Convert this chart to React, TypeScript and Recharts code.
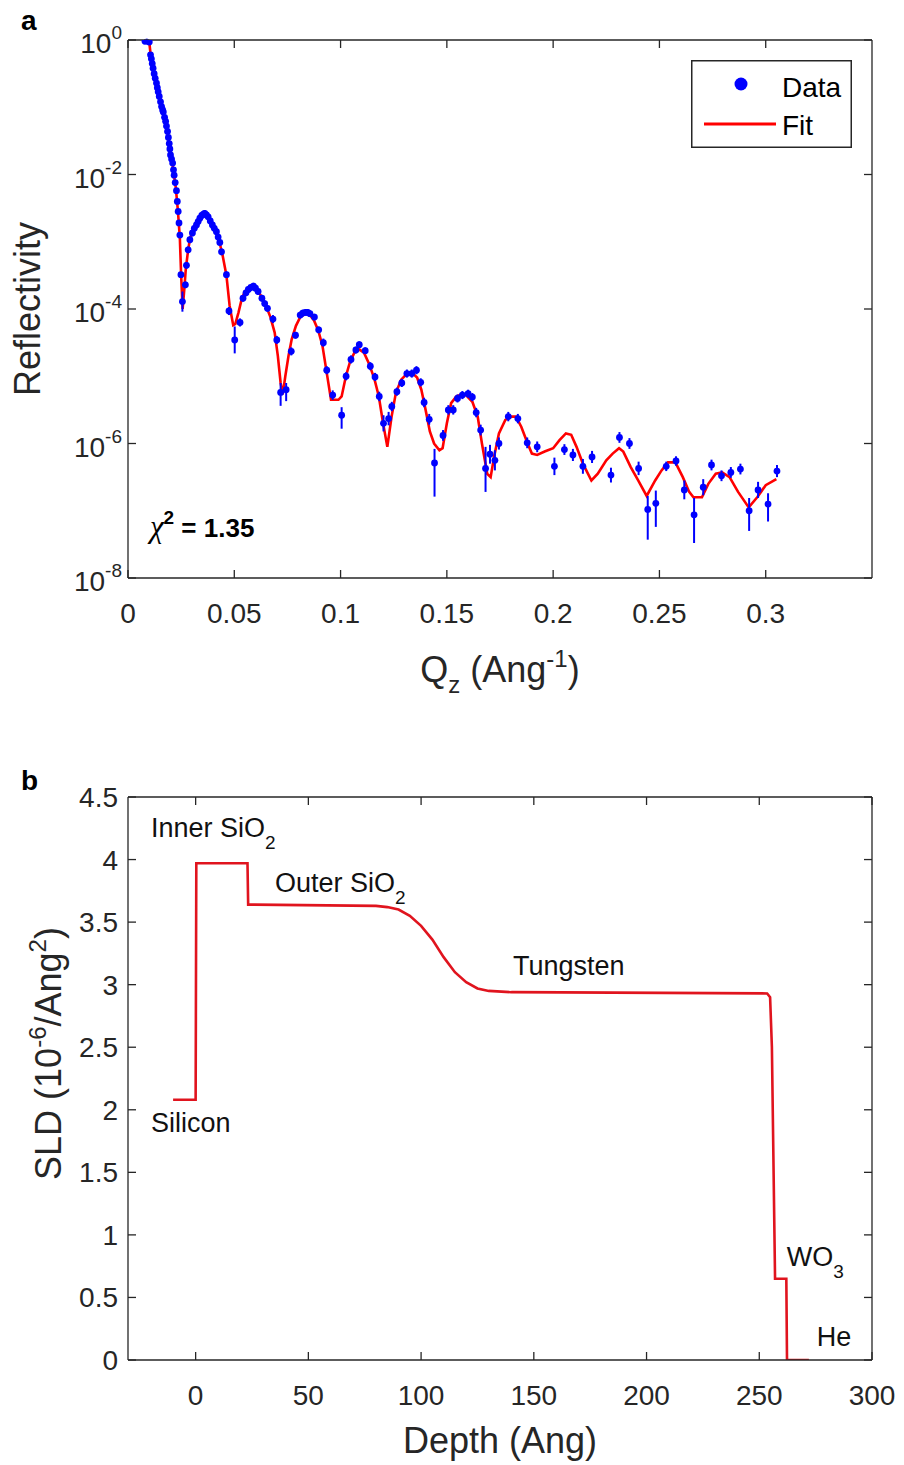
import React from 'react';
import { ComposedChart, Line, Scatter, XAxis, YAxis, ErrorBar, Legend, ReferenceDot } from 'recharts';

// ---------- Panel a: reflectivity ----------
const qTicks = [0, 0.05, 0.1, 0.15, 0.2, 0.25, 0.3];
const rTicks = [1e-8, 1e-6, 1e-4, 1e-2, 1];

const dataQ = [
  0.0080, 0.0088, 0.0095, 0.0100, 0.0106, 0.0110, 0.0114, 0.0118, 0.0123, 0.0128,
  0.0134, 0.0138, 0.0142, 0.0147, 0.0153, 0.0158, 0.0163, 0.0166, 0.0172, 0.0177,
  0.0181, 0.0186, 0.0190, 0.0194, 0.0197, 0.0200, 0.0205, 0.0210, 0.0214, 0.0217,
  0.0222, 0.0228, 0.0232, 0.0236, 0.0240, 0.0244, 0.0249, 0.0256, 0.0270, 0.0275,
  0.0283, 0.0291, 0.0303, 0.0312, 0.0322, 0.0330, 0.0338, 0.0347, 0.0355, 0.0361,
  0.0369, 0.0377, 0.0387, 0.0397, 0.0406, 0.0416, 0.0424, 0.0432, 0.0440, 0.0463,
  0.0475, 0.0502, 0.0527, 0.0541, 0.0555, 0.0566, 0.0578, 0.0590, 0.0600, 0.0612,
  0.0630, 0.0643, 0.0656, 0.0682, 0.0700, 0.0718, 0.0744, 0.0768, 0.0788, 0.0810,
  0.0822, 0.0835, 0.0845, 0.0856, 0.0877, 0.0897, 0.0919, 0.0935, 0.0963, 0.1005,
  0.1026, 0.1049, 0.1072, 0.1088, 0.1116, 0.1140, 0.1162, 0.1182, 0.1202, 0.1226,
  0.1241, 0.1265, 0.1288, 0.1312, 0.1335, 0.1357, 0.1377, 0.1393, 0.1417, 0.1442,
  0.1482, 0.1507, 0.1530, 0.1550, 0.1573, 0.1600, 0.1620, 0.1638, 0.1659, 0.1682,
  0.1703, 0.1726, 0.1745, 0.1789, 0.1834, 0.1878, 0.1925, 0.2006, 0.2053, 0.2093,
  0.2140, 0.2183, 0.2272, 0.2312, 0.2359, 0.2402, 0.2445, 0.2483, 0.2532, 0.2578,
  0.2617, 0.2663, 0.2706, 0.2745, 0.2792, 0.2836, 0.2881, 0.2922, 0.2964, 0.3011,
  0.3053,
];
const dataLogR = [
  -0.02, -0.01, -0.02, -0.03, -0.22, -0.28, -0.35, -0.42, -0.50, -0.57,
  -0.64, -0.71, -0.77, -0.84, -0.92, -0.99, -1.04, -1.07, -1.15, -1.21,
  -1.28, -1.36, -1.45, -1.54, -1.62, -1.71, -1.77, -1.83, -1.93, -2.01,
  -2.12, -2.24, -2.40, -2.55, -2.72, -2.90, -3.49, -3.89, -3.64, -3.35,
  -3.12, -2.97, -2.87, -2.80, -2.75, -2.70, -2.65, -2.61, -2.59, -2.58,
  -2.60, -2.63, -2.69, -2.75, -2.80, -2.85, -2.93, -3.01, -3.15, -3.49,
  -4.03, -4.46, -4.20, -3.84, -3.76, -3.71, -3.68, -3.66, -3.69, -3.74,
  -3.84, -3.92, -3.99, -4.15, -4.46, -5.24, -5.20, -4.63, -4.39, -4.09,
  -4.06, -4.05, -4.05, -4.07, -4.12, -4.31, -4.50, -4.91, -5.28, -5.58,
  -5.00, -4.75, -4.61, -4.53, -4.62, -4.85, -5.01, -5.30, -5.70, -5.63,
  -5.45, -5.23, -5.10, -4.96, -4.96, -4.91, -5.09, -5.39, -5.64, -6.29,
  -5.88, -5.50, -5.50, -5.33, -5.28, -5.26, -5.31, -5.54, -5.80, -6.37,
  -6.16, -6.25, -6.00, -5.60, -5.63, -5.99, -6.05, -6.34, -6.09, -6.17,
  -6.34, -6.20, -6.47, -5.91, -6.00, -6.37, -6.98, -6.89, -6.34, -6.26,
  -6.69, -7.06, -6.65, -6.32, -6.48, -6.43, -6.38, -7.00, -6.69, -6.90,
  -6.41,
];
// error bar extents, in decades below / above each point
const dataErrDown = [
  0.03, 0.03, 0.03, 0.03, 0.03, 0.03, 0.03, 0.03, 0.03, 0.03,
  0.03, 0.03, 0.03, 0.03, 0.03, 0.03, 0.03, 0.03, 0.03, 0.03,
  0.03, 0.03, 0.03, 0.03, 0.03, 0.03, 0.03, 0.03, 0.03, 0.03,
  0.03, 0.03, 0.03, 0.03, 0.03, 0.03, 0.04, 0.15, 0.05, 0.05,
  0.05, 0.05, 0.05, 0.05, 0.05, 0.05, 0.05, 0.05, 0.05, 0.05,
  0.05, 0.05, 0.05, 0.05, 0.05, 0.05, 0.05, 0.05, 0.05, 0.05,
  0.06, 0.20, 0.06, 0.05, 0.05, 0.05, 0.05, 0.05, 0.05, 0.05,
  0.05, 0.05, 0.05, 0.06, 0.06, 0.20, 0.17, 0.06, 0.05, 0.05,
  0.05, 0.05, 0.05, 0.05, 0.05, 0.05, 0.06, 0.06, 0.07, 0.20,
  0.06, 0.06, 0.05, 0.05, 0.05, 0.06, 0.06, 0.07, 0.12, 0.10,
  0.07, 0.06, 0.06, 0.06, 0.06, 0.06, 0.06, 0.07, 0.08, 0.50,
  0.08, 0.07, 0.07, 0.06, 0.06, 0.06, 0.06, 0.07, 0.08, 0.35,
  0.14, 0.15, 0.09, 0.07, 0.07, 0.08, 0.08, 0.13, 0.08, 0.09,
  0.11, 0.09, 0.11, 0.08, 0.08, 0.10, 0.45, 0.35, 0.07, 0.07,
  0.14, 0.42, 0.12, 0.08, 0.08, 0.08, 0.08, 0.30, 0.12, 0.26,
  0.09,
];
const dataErrUp = [
  0.03, 0.03, 0.03, 0.03, 0.03, 0.03, 0.03, 0.03, 0.03, 0.03,
  0.03, 0.03, 0.03, 0.03, 0.03, 0.03, 0.03, 0.03, 0.03, 0.03,
  0.03, 0.03, 0.03, 0.03, 0.03, 0.03, 0.03, 0.03, 0.03, 0.03,
  0.03, 0.03, 0.03, 0.03, 0.03, 0.03, 0.04, 0.15, 0.05, 0.05,
  0.05, 0.05, 0.05, 0.05, 0.05, 0.05, 0.05, 0.05, 0.05, 0.05,
  0.05, 0.05, 0.05, 0.05, 0.05, 0.05, 0.05, 0.05, 0.05, 0.05,
  0.06, 0.20, 0.06, 0.05, 0.05, 0.05, 0.05, 0.05, 0.05, 0.05,
  0.05, 0.05, 0.05, 0.06, 0.06, 0.14, 0.10, 0.06, 0.05, 0.05,
  0.05, 0.05, 0.05, 0.05, 0.05, 0.05, 0.06, 0.06, 0.07, 0.12,
  0.06, 0.06, 0.05, 0.05, 0.05, 0.06, 0.06, 0.07, 0.12, 0.10,
  0.07, 0.06, 0.06, 0.06, 0.06, 0.06, 0.06, 0.07, 0.08, 0.21,
  0.08, 0.07, 0.07, 0.06, 0.06, 0.06, 0.06, 0.07, 0.08, 0.32,
  0.14, 0.15, 0.09, 0.07, 0.07, 0.08, 0.08, 0.13, 0.08, 0.09,
  0.11, 0.09, 0.11, 0.08, 0.08, 0.10, 0.20, 0.19, 0.07, 0.07,
  0.14, 0.25, 0.12, 0.08, 0.08, 0.08, 0.08, 0.19, 0.12, 0.16,
  0.09,
];

const fitQ = [
  0.0085, 0.0100, 0.0106, 0.0115, 0.0125, 0.0135, 0.0145, 0.0155, 0.0165, 0.0175,
  0.0185, 0.0195, 0.0205, 0.0215, 0.0225, 0.0235, 0.0244, 0.0250, 0.0257, 0.0265,
  0.0272, 0.0283, 0.0292, 0.0305, 0.0320, 0.0338, 0.0355, 0.0370, 0.0385, 0.0400,
  0.0415, 0.0430, 0.0445, 0.0463, 0.0478, 0.0495, 0.0505, 0.0520, 0.0535, 0.0550,
  0.0570, 0.0590, 0.0610, 0.0630, 0.0650, 0.0670, 0.0690, 0.0705, 0.0718, 0.0728,
  0.0740, 0.0755, 0.0770, 0.0790, 0.0810, 0.0835, 0.0855, 0.0875, 0.0895, 0.0915,
  0.0935, 0.0955, 0.0990, 0.1005, 0.1025, 0.1045, 0.1065, 0.1088, 0.1110, 0.1135,
  0.1160, 0.1180, 0.1200, 0.1220, 0.1240, 0.1260, 0.1285, 0.1310, 0.1340, 0.1360,
  0.1380, 0.1400, 0.1420, 0.1440, 0.1465, 0.1480, 0.1500, 0.1520, 0.1545, 0.1570,
  0.1590, 0.1620, 0.1645, 0.1665, 0.1690, 0.1706, 0.1722, 0.1745, 0.1775, 0.1805,
  0.1825, 0.1850, 0.1880, 0.1900, 0.1925, 0.1960, 0.2000, 0.2030, 0.2060, 0.2085,
  0.2110, 0.2140, 0.2180, 0.2210, 0.2250, 0.2280, 0.2310, 0.2330, 0.2365, 0.2400,
  0.2440, 0.2480, 0.2510, 0.2540, 0.2575, 0.2610, 0.2640, 0.2660, 0.2700, 0.2730,
  0.2765, 0.2795, 0.2830, 0.2870, 0.2920, 0.2960, 0.3000, 0.3050,
];
const fitLogR = [
  -0.02, -0.03, -0.20, -0.36, -0.51, -0.66, -0.81, -0.95, -1.08, -1.22,
  -1.36, -1.55, -1.75, -1.98, -2.20, -2.55, -2.95, -3.50, -4.00, -3.70,
  -3.40, -3.12, -2.95, -2.83, -2.72, -2.63, -2.58, -2.60, -2.66, -2.76,
  -2.86, -3.00, -3.20, -3.50, -3.95, -4.24, -4.22, -4.05, -3.85, -3.74,
  -3.68, -3.66, -3.72, -3.83, -3.96, -4.12, -4.35, -4.70, -5.10, -5.27,
  -5.00, -4.70, -4.45, -4.25, -4.12, -4.07, -4.09, -4.17, -4.32, -4.55,
  -4.95, -5.35, -5.35, -5.30, -5.00, -4.78, -4.65, -4.60, -4.65, -4.82,
  -5.05, -5.30, -5.70, -6.05, -5.60, -5.25, -5.05, -4.97, -4.96, -5.02,
  -5.20, -5.50, -5.82, -6.00, -6.10, -6.07, -5.70, -5.40, -5.30, -5.27,
  -5.28, -5.38, -5.60, -6.00, -6.45, -6.50, -6.20, -5.85, -5.65, -5.60,
  -5.60, -5.75, -6.00, -6.15, -6.17, -6.12, -6.07, -5.95, -5.85, -5.87,
  -6.05, -6.30, -6.55, -6.45, -6.25, -6.15, -6.07, -6.12, -6.35, -6.55,
  -6.78, -6.55, -6.40, -6.28, -6.28, -6.50, -6.72, -6.80, -6.80, -6.60,
  -6.45, -6.43, -6.50, -6.72, -6.95, -6.80, -6.62, -6.53,
];

const chiSquared = '1.35';
const chiPos = { q: 0.0103, logR: -7.39 };

// ---------- Panel b: SLD profile ----------
const depthTicks = [0, 50, 100, 150, 200, 250, 300];
const sldTicks = [0, 0.5, 1, 1.5, 2, 2.5, 3, 3.5, 4, 4.5];
const depth = [-10, 0, 0.3, 23, 23.3, 80, 85, 90, 95, 100, 105, 110, 115, 120, 125, 130, 140, 253.5, 254.8, 255.6, 257, 262, 262.3, 272];
const sld = [2.08, 2.08, 3.97, 3.97, 3.64, 3.63, 3.62, 3.60, 3.55, 3.47, 3.36, 3.22, 3.10, 3.02, 2.97, 2.95, 2.94, 2.93, 2.90, 2.50, 0.65, 0.65, 0.0, 0.0];
const layerNames = ['Inner SiO', 'Outer SiO', 'Tungsten', 'Silicon', 'WO', 'He'];
const layerSubs = ['2', '2', '', '', '3', ''];
const layerDepth = [-19.8, 35.2, 140.8, -19.8, 262.2, 275.5];
const layerSld = [4.18, 3.74, 3.08, 1.82, 0.75, 0.11];

// ---------- tables ----------
const dataRows = dataQ.map((q, i) => {
  const r = Math.pow(10, dataLogR[i]);
  return {
    q,
    r,
    err: [r - Math.pow(10, dataLogR[i] - dataErrDown[i]), Math.pow(10, dataLogR[i] + dataErrUp[i]) - r],
  };
});
const fitRows = fitQ.map((q, i) => ({ q, r: Math.pow(10, fitLogR[i]) }));
const sldRows = depth.map((d, i) => ({ d, s: sld[i] }));

// ---------- styling ----------
const FONT = '"Liberation Sans", Arial, Helvetica, sans-serif';
const INK = '#262626';
const TICK = 8;
const BLUE = '#0000ff';
const RED = '#ff0000';
const SLD_RED = '#e0141e';
const axisLine = { stroke: INK, strokeWidth: 1.3 };

const LogLeftTick = (props: any) => {
  const { x, y, payload } = props;
  const exp = Math.round(Math.log10(payload.value));
  return (
    <g>
      <line x1={x} y1={y} x2={x + TICK} y2={y} stroke={INK} strokeWidth={1.3} />
      <text x={x - 6} y={y + 13} textAnchor="end" fontFamily={FONT} fontSize={28} fill={INK}>
        10<tspan dy={-14} fontSize={19}>{String(exp)}</tspan>
      </text>
    </g>
  );
};

const LinLeftTick = (props: any) => {
  const { x, y, payload } = props;
  return (
    <g>
      <line x1={x} y1={y} x2={x + TICK} y2={y} stroke={INK} strokeWidth={1.3} />
      <text x={x - 10} y={y + 10} textAnchor="end" fontFamily={FONT} fontSize={28} fill={INK}>
        {String(payload.value)}
      </text>
    </g>
  );
};

const BottomTick = (props: any) => {
  const { x, y, payload } = props;
  return (
    <g>
      <line x1={x} y1={y} x2={x} y2={y - TICK} stroke={INK} strokeWidth={1.3} />
      <text x={x} y={y + 45} textAnchor="middle" fontFamily={FONT} fontSize={28} fill={INK}>
        {String(payload.value)}
      </text>
    </g>
  );
};

const TopTick = (props: any) => {
  const { x, y } = props;
  return <line x1={x} y1={y} x2={x} y2={y + TICK} stroke={INK} strokeWidth={1.3} />;
};

const RightTick = (props: any) => {
  const { x, y } = props;
  return <line x1={x} y1={y} x2={x - TICK} y2={y} stroke={INK} strokeWidth={1.3} />;
};

const QLabel = (props: any) => {
  const vb = props.viewBox;
  return (
    <text x={vb.x + vb.width / 2} y={vb.y + 104} textAnchor="middle" fontFamily={FONT} fontSize={36} fill={INK}>
      Q<tspan dy={11} fontSize={24}>z</tspan>
      <tspan dy={-11}>{'\u00a0(Ang'}</tspan>
      <tspan dy={-15} fontSize={24}>-1</tspan>
      <tspan dy={15}>)</tspan>
    </text>
  );
};

const ReflLabel = (props: any) => {
  const vb = props.viewBox;
  const cy = vb.y + vb.height / 2;
  return (
    <text transform={`translate(40, ${cy}) rotate(-90)`} textAnchor="middle" fontFamily={FONT} fontSize={36} fill={INK}>
      Reflectivity
    </text>
  );
};

const DepthLabel = (props: any) => {
  const vb = props.viewBox;
  return (
    <text x={vb.x + vb.width / 2} y={vb.y + 93} textAnchor="middle" fontFamily={FONT} fontSize={36} fill={INK}>
      Depth (Ang)
    </text>
  );
};

const SldLabel = (props: any) => {
  const vb = props.viewBox;
  const cy = vb.y + vb.height / 2 - 25;
  return (
    <text transform={`translate(61, ${cy}) rotate(-90)`} textAnchor="middle" fontFamily={FONT} fontSize={36} fill={INK}>
      {'SLD (10'}
      <tspan dy={-15} fontSize={24}>-6</tspan>
      <tspan dy={15}>/Ang</tspan>
      <tspan dy={-15} fontSize={24}>2</tspan>
      <tspan dy={15}>)</tspan>
    </text>
  );
};

const ChiLabel = (props: any) => {
  const vb = props.viewBox;
  return (
    <text x={vb.x} y={vb.y} fontFamily={FONT} fill="#000">
      <tspan fontFamily='"Liberation Serif", "Times New Roman", serif' fontStyle="italic" fontSize={31}>χ</tspan>
      <tspan dy={-13} fontSize={19} fontWeight="bold">2</tspan>
      <tspan dy={13} fontSize={26} fontWeight="bold">{'\u00a0= ' + chiSquared}</tspan>
    </text>
  );
};

const makeLayerLabel = (name: string, sub: string) => (props: any) => {
  const vb = props.viewBox;
  return (
    <text x={vb.x} y={vb.y} fontFamily={FONT} fontSize={27} fill="#111">
      {name}
      {sub ? <tspan dy={12} fontSize={19}>{sub}</tspan> : null}
    </text>
  );
};

const LegendBox = () => (
  <svg width={161} height={88} style={{ display: 'block' }}>
    <rect x={0.75} y={0.75} width={159.5} height={86.5} fill="#fff" stroke={INK} strokeWidth={1.5} />
    <circle cx={50} cy={24} r={6.5} fill={BLUE} />
    <text x={91} y={37} fontFamily={FONT} fontSize={28} fill="#000">Data</text>
    <line x1={13} y1={64} x2={85} y2={64} stroke={RED} strokeWidth={3} />
    <text x={91} y={75} fontFamily={FONT} fontSize={28} fill="#000">Fit</text>
  </svg>
);

const DataDot = (props: any) => <circle cx={props.cx} cy={props.cy} r={3.4} fill={BLUE} />;

export default function App() {
  return (
    <div style={{ position: 'absolute', left: 0, top: 0, width: 904, height: 1465, background: '#fff', overflow: 'hidden' }}>
      <div style={{ position: 'absolute', left: 0, top: 0 }}>
        <ComposedChart width={904} height={700} margin={{ top: 39, right: 31, bottom: 0, left: 0 }}>
          <XAxis xAxisId="b" type="number" dataKey="q" domain={[0, 0.35]} ticks={qTicks} interval={0} allowDataOverflow
            height={122} tickSize={0} tickMargin={0} tickLine={false} axisLine={axisLine} tick={<BottomTick />} label={QLabel} />
          <XAxis xAxisId="t" orientation="top" type="number" dataKey="q" domain={[0, 0.35]} ticks={qTicks} interval={0} allowDataOverflow
            height={1} tickSize={0} tickMargin={0} tickLine={false} axisLine={axisLine} tick={<TopTick />} />
          <YAxis yAxisId="l" type="number" dataKey="r" scale="log" domain={[1e-8, 1]} ticks={rTicks} interval={0} allowDataOverflow
            width={128} tickSize={0} tickMargin={0} tickLine={false} axisLine={axisLine} tick={<LogLeftTick />} label={ReflLabel} />
          <YAxis yAxisId="r" orientation="right" type="number" dataKey="r" scale="log" domain={[1e-8, 1]} ticks={rTicks} interval={0} allowDataOverflow
            width={1} tickSize={0} tickMargin={0} tickLine={false} axisLine={axisLine} tick={<RightTick />} />
          {/* invisible copy of the fit, only to bind the top/right box axes */}
          <Line xAxisId="t" yAxisId="r" data={fitRows} dataKey="r" type="linear" stroke="none" strokeOpacity={0}
            dot={false} activeDot={false} legendType="none" isAnimationActive={false} />
          <Line xAxisId="b" yAxisId="l" data={fitRows} dataKey="r" type="linear" stroke={RED} strokeWidth={2.6}
            dot={false} activeDot={false} isAnimationActive={false} />
          <Scatter xAxisId="b" yAxisId="l" data={dataRows} dataKey="r" fill={BLUE} shape={DataDot} isAnimationActive={false}>
            <ErrorBar dataKey="err" direction="y" width={0} stroke={BLUE} strokeWidth={2} />
          </Scatter>
          <ReferenceDot xAxisId="b" yAxisId="l" x={chiPos.q} y={Math.pow(10, chiPos.logR)} r={0} ifOverflow="visible"
            fill="none" stroke="none" label={ChiLabel} />
          <Legend content={<LegendBox />} layout="vertical" align="center" verticalAlign="middle"
            wrapperStyle={{ left: 691, top: 60, width: 161, height: 88 }} />
        </ComposedChart>
      </div>
      <div style={{ position: 'absolute', left: 0, top: 700 }}>
        <ComposedChart width={904} height={765} margin={{ top: 96, right: 31, bottom: 0, left: 0 }}>
          <XAxis xAxisId="b" type="number" dataKey="d" domain={[-30, 300]} ticks={depthTicks} interval={0} allowDataOverflow
            height={105} tickSize={0} tickMargin={0} tickLine={false} axisLine={axisLine} tick={<BottomTick />} label={DepthLabel} />
          <XAxis xAxisId="t" orientation="top" type="number" dataKey="d" domain={[-30, 300]} ticks={depthTicks} interval={0} allowDataOverflow
            height={1} tickSize={0} tickMargin={0} tickLine={false} axisLine={axisLine} tick={<TopTick />} />
          <YAxis yAxisId="l" type="number" dataKey="s" domain={[0, 4.5]} ticks={sldTicks} interval={0} allowDataOverflow
            width={128} tickSize={0} tickMargin={0} tickLine={false} axisLine={axisLine} tick={<LinLeftTick />} label={SldLabel} />
          <YAxis yAxisId="r" orientation="right" type="number" dataKey="s" domain={[0, 4.5]} ticks={sldTicks} interval={0} allowDataOverflow
            width={1} tickSize={0} tickMargin={0} tickLine={false} axisLine={axisLine} tick={<RightTick />} />
          {/* invisible copy of the profile, only to bind the top/right box axes */}
          <Line xAxisId="t" yAxisId="r" data={sldRows} dataKey="s" type="linear" stroke="none" strokeOpacity={0}
            dot={false} activeDot={false} legendType="none" isAnimationActive={false} />
          <Line xAxisId="b" yAxisId="l" data={sldRows} dataKey="s" type="linear" stroke={SLD_RED} strokeWidth={2.6}
            dot={false} activeDot={false} isAnimationActive={false} />
          {layerNames.map((name, i) => (
            <ReferenceDot key={name} xAxisId="b" yAxisId="l" x={layerDepth[i]} y={layerSld[i]} r={0} ifOverflow="visible"
              fill="none" stroke="none" label={makeLayerLabel(name, layerSubs[i])} />
          ))}
        </ComposedChart>
      </div>
      <svg width={904} height={1465} style={{ position: 'absolute', left: 0, top: 0, pointerEvents: 'none' }}>
        <text x={21} y={30} fontFamily={FONT} fontSize={28} fontWeight="bold" fill="#000">a</text>
        <text x={21} y={790} fontFamily={FONT} fontSize={28} fontWeight="bold" fill="#000">b</text>
      </svg>
    </div>
  );
}
